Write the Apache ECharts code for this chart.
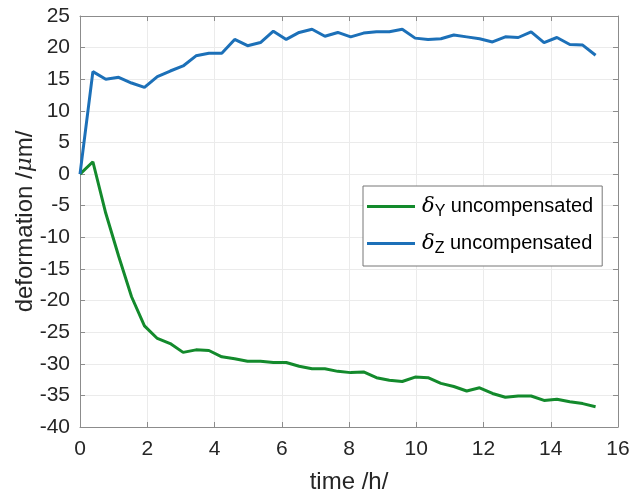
<!DOCTYPE html>
<html>
<head>
<meta charset="utf-8">
<script src="https://cdn.jsdelivr.net/npm/echarts@6/dist/echarts.min.js"></script>
<style>
  html, body { margin: 0; padding: 0; background: #fff; }
  #chart { width: 632px; height: 494px; }
</style>
</head>
<body>
<div id="chart"></div>
<script>
/* sampling: one point every 23 minutes, 41 samples */
const STEP_H = 23 / 60
const DELTA_Y = [0, 1.95, -6.2, -13.0, -19.4, -24.0, -26.0, -26.8, -28.2, -27.8,
  -27.9, -28.9, -29.2, -29.6, -29.6, -29.8, -29.8, -30.4, -30.8, -30.8,
  -31.2, -31.4, -31.3, -32.2, -32.6, -32.8, -32.1, -32.2, -33.1, -33.6,
  -34.3, -33.8, -34.7, -35.3, -35.1, -35.1, -35.8, -35.6, -36.0, -36.3, -36.8]
const DELTA_Z = [0, 16.2, 15.0, 15.3, 14.4, 13.7, 15.4, 16.3, 17.1, 18.7,
  19.1, 19.1, 21.3, 20.3, 20.8, 22.6, 21.3, 22.4, 22.9, 21.8,
  22.4, 21.7, 22.3, 22.5, 22.5, 22.9, 21.5, 21.3, 21.4, 22.0,
  21.7, 21.4, 20.9, 21.7, 21.6, 22.5, 20.8, 21.6, 20.5, 20.4, 18.8]
const TIME = DELTA_Y.map((_, i) => i * STEP_H)

const GREEN = '#138a2c'
const BLUE = '#1c70b8'
const FONT = 'Liberation Sans, Arial, sans-serif'
const TXT = '#262626'
const AXIS = '#8c8c8c'

const chart = echarts.init(document.getElementById('chart'))

/* box axes on top/right: line + inward ticks only */
const boxAxis = {
  axisLine: { show: true, onZero: false, lineStyle: { color: AXIS, width: 1 } },
  axisTick: { show: true, inside: true, length: 5, lineStyle: { color: AXIS } },
  axisLabel: { show: false },
  splitLine: { show: false }
}

const legendRich = {
  d: { fontFamily: 'DejaVu Serif', fontStyle: 'italic', fontSize: 21, color: '#000' },
  s: { fontFamily: FONT, fontSize: 16, color: '#000', verticalAlign: 'bottom', padding: [11, 0, 0, 0] },
  t: { fontFamily: FONT, fontSize: 20, color: '#000' }
}

chart.setOption({
  animation: false,
  backgroundColor: '#fff',
  grid: { left: 80, right: 14, top: 16, bottom: 67, outerBoundsMode: 'none', containLabel: false },
  legend: {
    orient: 'vertical',
    left: 363,
    top: 186,
    padding: [10, 9, 9, 4],
    itemGap: 13,
    itemWidth: 48,
    itemHeight: 3,
    borderColor: '#777',
    borderWidth: 1,
    backgroundColor: '#fff',
    icon: 'rect',
    data: ['dY', 'dZ'],
    formatter: name => name === 'dY'
      ? '{d|δ}{s|Y}{t| uncompensated}'
      : '{d|δ}{s|Z}{t| uncompensated}',
    textStyle: { rich: legendRich, padding: [0, 0, 0, 2] }
  },
  xAxis: [{
    type: 'value',
    min: 0, max: 16, interval: 2,
    name: 'time /h/',
    nameLocation: 'middle',
    nameGap: 43,
    nameMoveOverlap: false,
    nameTextStyle: { fontFamily: FONT, fontSize: 24, color: TXT },
    axisLine: { show: true, onZero: false, lineStyle: { color: AXIS } },
    axisTick: { show: true, inside: true, length: 5, lineStyle: { color: AXIS } },
    axisLabel: { fontFamily: FONT, fontSize: 21, color: TXT, margin: 12 },
    splitLine: { show: true, lineStyle: { color: '#ebebeb', width: 1 } }
  }, Object.assign({ type: 'value', position: 'top', min: 0, max: 16, interval: 2 }, boxAxis)],
  yAxis: [{
    type: 'value',
    min: -40, max: 25, interval: 5,
    name: '{n|deformation /}{m|μ}{n|m/}',
    nameLocation: 'middle',
    nameGap: 43,
    nameMoveOverlap: false,
    nameTextStyle: {
      rich: {
        n: { fontFamily: FONT, fontSize: 24, color: TXT },
        m: { fontFamily: 'DejaVu Serif', fontStyle: 'italic', fontSize: 23, color: TXT }
      }
    },
    axisLine: { show: true, onZero: false, lineStyle: { color: AXIS } },
    axisTick: { show: true, inside: true, length: 5, lineStyle: { color: AXIS } },
    axisLabel: { fontFamily: FONT, fontSize: 21, color: TXT, margin: 10 },
    splitLine: { show: true, lineStyle: { color: '#ebebeb', width: 1 } }
  }, Object.assign({ type: 'value', position: 'right', min: -40, max: 25, interval: 5 }, boxAxis)],
  series: [{
    name: 'dY',
    type: 'line',
    data: TIME.map((t, i) => [t, DELTA_Y[i]]),
    symbol: 'none',
    color: GREEN,
    lineStyle: { width: 3, color: GREEN }
  }, {
    name: 'dZ',
    type: 'line',
    data: TIME.map((t, i) => [t, DELTA_Z[i]]),
    symbol: 'none',
    color: BLUE,
    lineStyle: { width: 3, color: BLUE }
  }]
})
</script>
</body>
</html>
